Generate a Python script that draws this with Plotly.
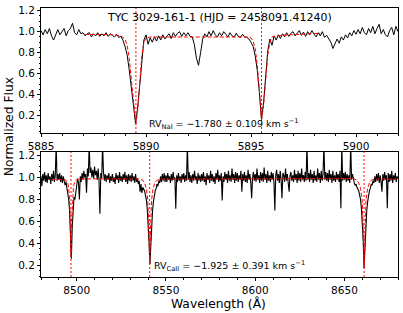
import numpy as np
import plotly.graph_objects as go

# ---------------- data ----------------
title_text = "TYC 3029-161-1 (HJD = 2458091.41240)"
rv_nai_text = "RV<sub>NaI</sub> = \u22121.780 \u00b1 0.109 km s<sup>\u22121</sup>"
rv_caii_text = "RV<sub>CaII</sub> = \u22121.925 \u00b1 0.391 km s<sup>\u22121</sup>"

# Na I region: observed spectrum sampled every 0.1 A from 5885.0
na_start, na_step = 5885.0, 0.1
na_flux = [
    1.01, 0.97, 1.02, 0.98, 1.03, 0.96, 0.92, 0.98, 1.02, 0.97,
    1.00, 1.03, 0.96, 1.01, 1.03, 1.08, 0.99, 0.97, 1.02, 0.98,
    0.99, 0.96, 0.98, 0.99, 0.95, 0.98, 0.96, 0.99, 0.955, 0.98,
    0.96, 0.99, 0.955, 0.98, 0.965, 0.95, 0.975, 0.945, 0.955, 0.92,
    0.86, 0.78, 0.64, 0.45, 0.28, 0.13, 0.27, 0.50, 0.76, 0.92,
    0.97, 0.88, 0.94, 0.90, 0.95, 0.91, 0.96, 0.92, 0.97, 0.93,
    0.96, 0.98, 0.935, 0.99, 0.955, 0.985, 1.00, 0.955, 0.99, 0.96,
    0.99, 0.955, 0.95, 0.88, 0.75, 0.68, 0.80, 0.93, 0.98, 0.95,
    1.00, 0.96, 1.01, 0.97, 0.95, 0.99, 0.96, 1.00, 0.975, 0.95,
    0.99, 0.96, 0.95, 0.985, 0.955, 0.945, 0.975, 0.95, 0.945, 0.93,
    0.90, 0.86, 0.77, 0.63, 0.42, 0.16, 0.33, 0.60, 0.82, 0.93,
    0.87, 0.96, 0.92, 0.97, 0.935, 0.98, 0.95, 0.99, 0.955, 0.985,
    1.00, 0.96, 0.99, 1.01, 0.965, 0.995, 0.955, 1.00, 0.97, 1.01,
    0.975, 0.95, 0.99, 0.96, 1.00, 0.945, 0.965, 0.93, 0.90, 0.84,
    0.88, 0.93, 0.89, 0.95, 0.92, 0.97, 0.94, 0.99, 0.96, 1.01,
    0.975, 1.02, 0.98, 1.04, 0.99, 0.97, 1.03, 0.99, 1.05, 0.98,
    1.03, 1.07, 0.98, 1.02, 0.97, 0.95, 1.01, 1.04, 0.97, 1.05,
    1.00,
]
# Na I fitted model
na_model_wl = [5887.1, 5888.0, 5888.5, 5888.8, 5889.0, 5889.1, 5889.2, 5889.3, 5889.4,
               5889.52, 5889.6, 5889.7, 5889.8, 5889.9, 5890.0, 5890.2, 5894.9, 5895.0,
               5895.1, 5895.2, 5895.3, 5895.4, 5895.5, 5895.6, 5895.7, 5895.8, 5895.9,
               5896.0, 5896.3, 5897.0, 5898.3]
na_model_flux = [0.974, 0.972, 0.970, 0.960, 0.930, 0.870, 0.750, 0.550, 0.320,
                 0.120, 0.240, 0.500, 0.770, 0.900, 0.940, 0.949, 0.949, 0.940,
                 0.910, 0.840, 0.680, 0.440, 0.160, 0.300, 0.540, 0.780, 0.900,
                 0.950, 0.963, 0.970, 0.985]
na_lines = [5889.52, 5895.50]

# Ca II region: observed spectrum sampled every 0.5 A from 8480.0
ca_start, ca_step = 8480.0, 0.5
ca_flux = [
    1.01, 0.92, 1.03, 0.97, 1.05, 0.96, 1.02, 0.95, 1.04, 0.98, 1.01, 0.94, 1.03, 0.97, 1.06, 0.96, 1.02, 1.30, 0.97, 1.03,
    0.98, 1.04, 0.96, 1.02, 0.95, 1.01, 0.97, 0.93, 0.96, 0.90, 0.88, 0.80, 0.70, 0.45, 0.26, 0.55, 0.72, 0.82, 0.80, 0.87,
    0.93, 0.99, 0.95, 0.80, 1.01, 0.96, 1.04, 0.98, 1.06, 1.00, 1.03, 0.86, 1.08, 1.01, 1.30, 1.04, 1.09, 1.00, 1.07, 0.99,
    1.10, 1.02, 1.06, 0.98, 1.08, 0.97, 0.67, 1.04, 0.99, 1.30, 1.05, 0.97, 1.03, 0.96, 1.02, 0.98, 1.04, 0.95, 1.01, 0.97,
    1.03, 0.96, 1.00, 0.94, 1.04, 0.98, 1.02, 0.95, 1.05, 0.97, 1.01, 0.96, 1.03, 0.98, 1.05, 0.96, 1.02, 0.94, 1.03, 0.97,
    1.02, 0.96, 1.04, 0.97, 1.01, 0.95, 1.03, 0.96, 0.99, 0.94, 0.97, 0.87, 0.94, 0.86, 0.91, 0.90, 0.88, 0.84, 0.80, 0.72,
    0.60, 0.42, 0.21, 0.40, 0.58, 0.70, 0.78, 0.84, 0.88, 0.90, 0.94, 0.92, 0.97, 0.95, 1.01, 0.96, 1.03, 0.97, 1.04, 0.96,
    1.02, 0.96, 1.04, 0.98, 1.01, 0.95, 1.03, 0.97, 1.05, 0.98, 1.00, 0.715, 1.02, 0.96, 1.04, 0.97, 1.01, 0.95, 1.03, 0.98,
    1.04, 0.96, 1.02, 0.97, 1.30, 0.98, 1.05, 0.96, 1.02, 0.95, 1.03, 0.97, 1.06, 0.98, 1.01, 0.94, 1.04, 0.97, 1.02, 0.96,
    1.03, 0.97, 1.05, 0.96, 1.01, 0.93, 1.04, 0.98, 1.02, 0.95, 1.06, 0.97, 1.03, 0.96, 1.01, 0.94, 1.04, 0.98, 1.07, 0.96,
    1.02, 0.97, 1.04, 0.79, 1.01, 0.96, 1.05, 0.98, 1.03, 0.95, 1.06, 0.97, 1.02, 0.96, 1.08, 0.98, 1.03, 0.95, 1.05, 0.97,
    1.04, 0.96, 1.02, 0.98, 1.06, 0.87, 1.03, 0.97, 1.05, 0.96, 1.02, 0.95, 1.07, 0.98, 1.03, 0.96, 0.81, 0.99, 1.05, 0.97,
    1.03, 0.96, 1.08, 0.98, 1.02, 0.95, 1.05, 0.97, 1.04, 0.96, 1.09, 0.98, 1.03, 0.95, 1.06, 0.97, 1.02, 0.96, 1.05, 0.98,
    1.04, 0.96, 0.70, 1.02, 1.07, 0.97, 1.03, 0.95, 1.06, 0.98, 0.81, 1.04, 1.02, 0.96, 1.08, 0.97, 1.03, 0.95, 0.87, 1.02,
    1.05, 0.97, 1.02, 0.96, 1.07, 0.98, 1.03, 0.95, 1.06, 0.97, 1.04, 0.96, 1.08, 0.98, 1.02, 0.96, 1.05, 0.97, 1.30, 0.98,
    1.04, 0.96, 1.07, 0.98, 1.03, 0.95, 1.06, 0.97, 1.02, 0.96, 1.08, 0.98, 1.04, 0.95, 1.06, 0.97, 1.03, 1.30, 0.98, 1.05,
    0.97, 1.04, 0.96, 1.07, 0.98, 1.03, 0.95, 1.06, 0.97, 1.02, 0.96, 1.05, 0.98, 1.03, 0.96, 1.06, 0.72, 1.30, 0.97, 1.04,
    0.98, 1.05, 0.96, 1.03, 0.97, 1.02, 0.95, 1.30, 0.98, 1.03, 0.97, 0.95, 0.93, 0.94, 0.91, 0.90, 0.88, 0.84, 0.80, 0.72,
    0.60, 0.42, 0.18, 0.40, 0.58, 0.70, 0.78, 0.84, 0.88, 0.90, 0.94, 0.93, 0.97, 0.95, 1.01, 0.96, 1.03, 0.97, 1.04, 0.95,
    1.02, 0.96, 0.87, 1.03, 0.97, 1.05, 0.98, 1.02, 0.72, 1.04, 0.96, 1.03, 0.97, 1.06, 0.95, 1.02, 0.98, 1.04, 0.96, 1.01,
    0.99,
]
# Ca II fitted model
ca_model_wl = [8486.0, 8492.0, 8494.0, 8495.0, 8495.5, 8496.0, 8496.4, 8496.8, 8497.2, 8497.6,
               8498.2, 8499.0, 8500.0, 8502.0, 8535.0, 8537.0, 8538.0, 8539.0, 8539.8, 8540.3,
               8540.9, 8541.5, 8542.0, 8542.8, 8543.8, 8545.0, 8547.0, 8655.0, 8657.0, 8658.0,
               8659.0, 8659.9, 8660.4, 8661.0, 8661.6, 8662.1, 8663.0, 8664.0, 8665.0, 8667.0,
               8679.0]
ca_model_flux = [0.982, 0.982, 0.975, 0.950, 0.900, 0.800, 0.600, 0.280, 0.600, 0.800,
                 0.920, 0.965, 0.980, 0.987, 0.987, 0.975, 0.950, 0.900, 0.800, 0.600,
                 0.220, 0.600, 0.800, 0.900, 0.950, 0.975, 0.985, 0.990, 0.975, 0.950,
                 0.900, 0.800, 0.600, 0.180, 0.600, 0.800, 0.900, 0.950, 0.975, 0.985,
                 0.985]
ca_lines = [8496.8, 8540.9, 8661.0]

# ---------------- figure ----------------
na_wl = np.round(na_start + na_step * np.arange(len(na_flux)), 3)
ca_wl = np.round(ca_start + ca_step * np.arange(len(ca_flux)), 3)

FONT = "DejaVu Sans"
fig = go.Figure()

fig.add_trace(go.Scatter(x=na_wl, y=na_flux, mode="lines",
                         line=dict(color="black", width=1), xaxis="x", yaxis="y"))
fig.add_trace(go.Scatter(x=na_model_wl, y=na_model_flux, mode="lines",
                         line=dict(color="red", width=1, dash="4px,2px"), xaxis="x", yaxis="y"))
fig.add_trace(go.Scatter(x=ca_wl, y=ca_flux, mode="lines",
                         line=dict(color="black", width=1.1), xaxis="x2", yaxis="y2"))
fig.add_trace(go.Scatter(x=ca_model_wl, y=ca_model_flux, mode="lines",
                         line=dict(color="red", width=1, dash="4px,2px"), xaxis="x2", yaxis="y2"))

for w in na_lines:
    fig.add_shape(type="line", xref="x", yref="y domain", x0=w, x1=w, y0=0, y1=1,
                  line=dict(color="red", width=1, dash="2px,2px"))
for w in ca_lines:
    fig.add_shape(type="line", xref="x2", yref="y2 domain", x0=w, x1=w, y0=0, y1=1,
                  line=dict(color="red", width=1, dash="2px,2px"))

axis_common = dict(showline=True, linecolor="black", linewidth=1, mirror=True,
                   ticks="outside", ticklen=3, tickwidth=1, tickcolor="black",
                   showgrid=False, zeroline=False,
                   tickfont=dict(family=FONT, size=10.5, color="black"))

fig.update_layout(
    width=403, height=313,
    margin=dict(l=41, r=4, t=6, b=36),
    paper_bgcolor="white", plot_bgcolor="white",
    showlegend=False,
    xaxis=dict(domain=[0, 1], anchor="y", range=[5885.0, 5902.0], tick0=5885, dtick=5,
               minor=dict(ticks="outside", ticklen=1.5, dtick=1, tickcolor="black"),
               **axis_common),
    yaxis=dict(domain=[0.535, 1], anchor="x", range=[0.035, 1.225], tick0=0, dtick=0.2,
               tickformat=".1f",
               minor=dict(ticks="outside", ticklen=1.5, dtick=0.05, tickcolor="black"),
               **axis_common),
    xaxis2=dict(domain=[0, 1], anchor="y2", range=[8480.0, 8680.0], tick0=8500, dtick=50,
                minor=dict(ticks="outside", ticklen=1.5, dtick=10, tickcolor="black"),
                **axis_common),
    yaxis2=dict(domain=[0, 0.465], anchor="x2", range=[0.095, 1.232], tick0=0, dtick=0.2,
                tickformat=".1f",
                minor=dict(ticks="outside", ticklen=1.5, dtick=0.05, tickcolor="black"),
                **axis_common),
)

fig.add_annotation(text=title_text, xref="paper", yref="paper", x=0.4986, y=0.964,
                   xanchor="center", yanchor="middle", showarrow=False,
                   font=dict(family=FONT, size=11, color="black"))
fig.add_annotation(text=rv_nai_text, xref="x", yref="y", x=5890.03, y=0.121,
                   xanchor="left", yanchor="middle", showarrow=False,
                   font=dict(family=FONT, size=9.5, color="black"))
fig.add_annotation(text=rv_caii_text, xref="x2", yref="y2", x=8541.96, y=0.192,
                   xanchor="left", yanchor="middle", showarrow=False,
                   font=dict(family=FONT, size=9.5, color="black"))
fig.add_annotation(text="Normalized Flux", xref="paper", yref="paper", x=-0.0894, y=0.557,
                   xanchor="center", yanchor="middle", textangle=-90, showarrow=False,
                   font=dict(family=FONT, size=12.3, color="black"))
fig.add_annotation(text="Wavelength (\u00c5)", xref="paper", yref="paper", x=0.498, y=-0.097,
                   xanchor="center", yanchor="middle", showarrow=False,
                   font=dict(family=FONT, size=12.3, color="black"))

fig.write_html("out.html", config={"displayModeBar": False},
               post_script="document.body.style.margin='0px';document.body.style.padding='0px';")
